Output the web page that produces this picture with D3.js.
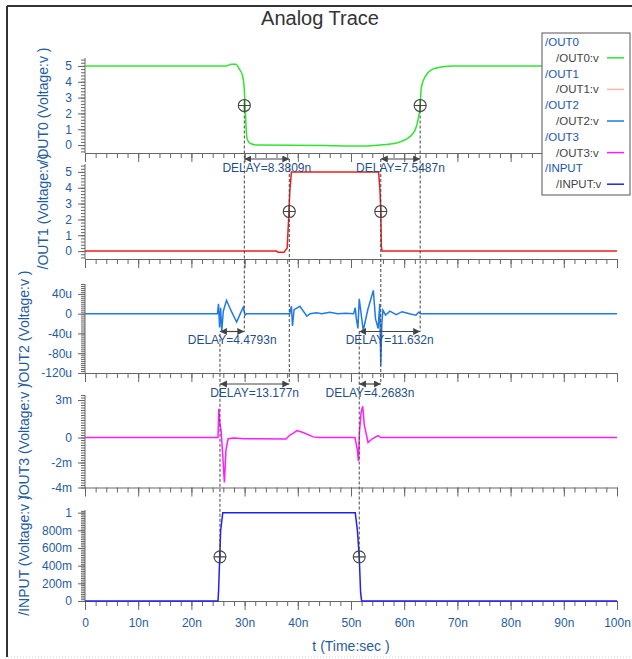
<!DOCTYPE html>
<html>
<head>
<meta charset="utf-8">
<script src="https://cdn.jsdelivr.net/npm/d3@7"></script>
<style>
  body { margin: 0; background: #fff; }
  svg { display: block; font-family: Arial, "Liberation Sans", sans-serif; }
</style>
</head>
<body>
<svg id="chart" width="632" height="659"></svg>
<script>
// --- series values (t in ns) ---
const out0 = [[0,5],[26.5,5],[27.5,5.1],[28.4,5.1],[29.0,4.8],[29.6,4.4],[29.9,3.7],[30.1,2.5],[30.3,1.0],[30.5,0.35],[31.2,0.08],[32.5,0],[45,-0.02],[50,-0.05],[53,-0.05],[56,0.02],[59.2,0.2],[61.7,0.75],[62.6,1.6],[63.0,2.5],[63.2,3.6],[63.9,4.3],[65.8,4.85],[69.2,5.0],[100,5]];
const out1 = [[0,0],[36,0],[36.3,-0.08],[37.4,-0.08],[38.0,0.2],[38.3,2.2],[38.5,3.8],[38.8,5],[55.2,5],[55.45,3.8],[55.6,2.5],[55.7,0.3],[55.85,0],[100,0]];
const out2 = [[0,0],[24.9,0],[25.1,20],[25.3,-28],[25.5,12],[25.7,-35],[26.0,5],[26.6,27],[27.5,5],[28.5,-17],[29.2,0],[29.75,13],[30.1,-3],[30.4,0],[38.5,0],[38.8,15],[39.0,-25],[39.3,8],[40.4,15],[41.7,-5],[42.3,0],[43.5,2],[44.5,0],[46.0,3],[47.5,0],[49,1],[50.5,0],[50.8,12],[51.0,-10],[51.3,-30],[51.55,30],[52.3,-34],[53.2,10],[54.2,47],[54.6,-10],[55.1,-30],[55.4,20],[55.6,-105],[55.8,-20],[56.0,7],[56.5,-3],[57.3,5],[58.5,-2],[59.6,4],[61.0,0],[62.2,-3],[62.7,3],[63.1,0],[100,0]];
const out3 = [[0,0],[25.0,0],[25.15,2.3],[25.3,1.3],[25.6,0.5],[25.9,-1.5],[26.2,-3.6],[26.5,-1.0],[26.9,-0.1],[28,-0.05],[30,-0.1],[37.8,-0.12],[38.5,0.2],[39.2,0.35],[39.8,0.55],[41,0.4],[42.9,0.05],[44,0],[50.75,0],[51.2,-1.0],[51.4,-1.9],[51.6,0.5],[51.9,2.0],[52.2,2.5],[52.5,1.0],[53.2,-0.4],[54.0,-0.1],[55.1,0.15],[55.6,0],[100,0]];
const input = [[0,0],[25.0,0],[25.1,0.1],[25.3,0.45],[25.5,0.8],[25.9,1.0],[50.8,1.0],[51.2,0.8],[51.55,0.5],[51.8,0.1],[52.0,0],[100,0]];

// --- tick values / labels ---
const xTicks = [0,10,20,30,40,50,60,70,80,90,100];
const yTicks0 = [0,1,2,3,4,5];
const yTicks2 = [40,0,-40,-80,-120];
const yTicks3 = [3,0,-2,-4];
const yTicks4 = [0,0.2,0.4,0.6,0.8,1];
const legendNames = ["/OUT0","/OUT1","/OUT2","/OUT3","/INPUT"];

// --- annotations (t in ns) ---
const crossMarks = [
  {panel:0, t:29.95, v:2.5}, {panel:0, t:63.0, v:2.5},
  {panel:1, t:38.4, v:2.5}, {panel:1, t:55.6, v:2.5},
  {panel:4, t:25.37, v:0.5}, {panel:4, t:51.55, v:0.5}
];
const delays = [
  {t0:29.95, t1:38.4, row:0, label:"DELAY=8.3809n"},
  {t0:55.6, t1:63.0, row:0, label:"DELAY=7.5487n"},
  {t0:25.37, t1:29.95, row:1, label:"DELAY=4.4793n"},
  {t0:51.55, t1:63.0, row:1, label:"DELAY=11.632n"},
  {t0:25.37, t1:38.4, row:2, label:"DELAY=13.177n"},
  {t0:51.55, t1:55.6, row:2, label:"DELAY=4.2683n"}
];
// guides: from a mark (index) or arrow row
const guides = [
  {t:25.37, a:{mark:4}, b:{row:1}},
  {t:29.95, a:{mark:0}, b:{row:1}},
  {t:38.4, a:{row:0}, b:{row:2}},
  {t:51.55, a:{row:1}, b:{mark:5}},
  {t:55.6, a:{row:0}, b:{row:2}},
  {t:63.0, a:{mark:1}, b:{row:1}}
];

// --- layout ---
const svg = d3.select("#chart");
const x = d3.scaleLinear([0,100],[85,617]);
const rowY = [159, 331.5, 384];
const tickCol = "#666", labCol = "#1f5d9e";

const panels = [
  {data:out0, color:"#2ee62e", dom:[-0.5,5.5], top:58, bot:153, ticks:yTicks0, minor:0.2, fmt:d=>d, lab:"/OUT0 (Voltage:v )", lx:48, curve:d3.curveMonotoneX},
  {data:out1, color:"#f01c1c", dom:[-0.5,5.5], top:164, bot:259, ticks:yTicks0, minor:0.2, fmt:d=>d, lab:"/OUT1 (Voltage:v )", lx:48, curve:d3.curveLinear},
  {data:out2, color:"#1f7ae8", dom:[-120,60], top:284, bot:373, ticks:yTicks2, minor:4, fmt:d=>d===0?"0":d+"u", lab:"/OUT2 (Voltage:v )", lx:29, curve:d3.curveLinear},
  {data:out3, color:"#ff1cff", dom:[-4,3.4], top:395, bot:487.5, ticks:yTicks3, minor:0.2, fmt:d=>d===0?"0":d+"m", lab:"/OUT3 (Voltage:v )", lx:29, curve:d3.curveLinear},
  {data:input, color:"#2020f0", dom:[0,1.03], top:510, bot:601, ticks:yTicks4, minor:0.02, fmt:d=>d===0?"0":d===1?"1":Math.round(d*1000)+"m", lab:"/INPUT (Voltage:v )", lx:29, curve:d3.curveLinear}
];

// frame
svg.append("line").attr("x1",7).attr("x2",7).attr("y1",6).attr("y2",657).attr("stroke","#333").attr("stroke-width",2);
svg.append("line").attr("x1",7).attr("x2",632).attr("y1",6).attr("y2",6).attr("stroke","#333").attr("stroke-width",2);
svg.append("line").attr("x1",8).attr("x2",632).attr("y1",657).attr("y2",657).attr("stroke","#ccc").attr("stroke-dasharray","1,2");

svg.append("text").attr("x",320).attr("y",25).attr("text-anchor","middle")
  .attr("font-size",20).attr("fill","#333").text("Analog Trace");

panels.forEach((p, i) => {
  p.y = d3.scaleLinear(p.dom, [p.bot, p.top]);
  const g = svg.append("g");

  // y minor + major ticks
  const [lo, hi] = p.dom;
  const minorVals = d3.range(Math.ceil(lo/p.minor - 1e-6), Math.floor(hi/p.minor + 1e-6) + 1).map(k => k*p.minor);
  g.append("g").attr("transform","translate(85,0)")
    .call(d3.axisLeft(p.y).tickValues(minorVals).tickSize(4).tickFormat("").tickSizeOuter(0))
    .call(s => s.select(".domain").remove())
    .call(s => s.selectAll("line").attr("stroke",tickCol));
  g.append("g").attr("transform","translate(85,0)")
    .call(d3.axisLeft(p.y).tickValues(p.ticks).tickSize(7).tickPadding(6).tickFormat(p.fmt).tickSizeOuter(0))
    .call(s => s.select(".domain").attr("stroke",tickCol).attr("d",`M0,${p.top}V${p.bot}`))
    .call(s => s.selectAll("line").attr("stroke",tickCol))
    .call(s => s.selectAll("text").attr("font-size",12).attr("fill",labCol).attr("font-family","Arial, 'Liberation Sans', sans-serif"));

  // x axis
  g.append("g").attr("transform",`translate(0,${p.bot})`)
    .call(d3.axisBottom(x).tickValues(d3.range(0,101,2)).tickSize(5).tickFormat("").tickSizeOuter(0))
    .call(s => s.select(".domain").remove())
    .call(s => s.selectAll("line").attr("stroke",tickCol));
  g.append("g").attr("transform",`translate(0,${p.bot})`)
    .call(d3.axisBottom(x).tickValues(xTicks).tickSize(9).tickPadding(8).tickSizeOuter(0)
      .tickFormat(i === 4 ? (d => d===0 ? "0" : d+"n") : ""))
    .call(s => s.select(".domain").attr("stroke",tickCol))
    .call(s => s.selectAll("line").attr("stroke",tickCol))
    .call(s => s.selectAll("text").attr("font-size",12).attr("fill",labCol).attr("font-family","Arial, 'Liberation Sans', sans-serif"));

  // trace
  g.append("path").datum(p.data)
    .attr("fill","none").attr("stroke",p.color).attr("stroke-width",1.5)
    .attr("d", d3.line().x(d => x(d[0])).y(d => p.y(d[1])).curve(p.curve));

  // y label
  svg.append("text").attr("transform",`translate(${p.lx},${(p.top+p.bot)/2}) rotate(-90)`)
    .attr("text-anchor","middle").attr("font-size",14).attr("fill",labCol).text(p.lab);
});

svg.append("text").attr("x",351).attr("y",651).attr("text-anchor","middle")
  .attr("font-size",14).attr("fill",labCol).text("t (Time:sec )");

// annotations
const ann = svg.append("g");
const defs = svg.append("defs");
defs.append("marker").attr("id","arr").attr("markerUnits","userSpaceOnUse")
  .attr("markerWidth",8).attr("markerHeight",8).attr("refX",7).attr("refY",3.5)
  .attr("orient","auto-start-reverse")
  .append("path").attr("d","M0,0L7,3.5L0,7Z").attr("fill","#444");

const markXY = m => [x(m.t), panels[m.panel].y(m.v)];
const anchorY = a => a.mark !== undefined ? markXY(crossMarks[a.mark])[1] : rowY[a.row];

ann.selectAll("line.guide").data(guides).join("line").attr("class","guide")
  .attr("x1",d => x(d.t)).attr("x2",d => x(d.t))
  .attr("y1",d => anchorY(d.a)).attr("y2",d => anchorY(d.b))
  .attr("stroke","#444").attr("stroke-width",1).attr("stroke-dasharray","3,2");

ann.selectAll("line.arrow").data(delays).join("line").attr("class","arrow")
  .attr("x1",d => x(d.t0)).attr("x2",d => x(d.t1))
  .attr("y1",d => rowY[d.row]).attr("y2",d => rowY[d.row])
  .attr("stroke","#444").attr("stroke-width",1.2)
  .attr("marker-start","url(#arr)").attr("marker-end","url(#arr)");

ann.selectAll("text.delay").data(delays).join("text").attr("class","delay")
  .attr("x",d => (x(d.t0)+x(d.t1))/2).attr("y",d => rowY[d.row] + 12.5)
  .attr("text-anchor","middle").attr("font-size",12).attr("fill","#1f4f8a").text(d => d.label);

const cm = ann.selectAll("g.cross").data(crossMarks).join("g").attr("class","cross")
  .attr("transform",d => `translate(${markXY(d)})`);
cm.append("circle").attr("r",6).attr("fill","none").attr("stroke","#444").attr("stroke-width",1.1);
cm.append("path").attr("d","M-6,0H6M0,-6V6").attr("stroke","#444").attr("stroke-width",1.1);

// legend
const lg = svg.append("g");
lg.append("rect").attr("x",542).attr("y",33).attr("width",88).attr("height",162)
  .attr("fill","#fff").attr("stroke","#555").attr("stroke-width",1);
legendNames.forEach((n, i) => {
  const b = 46 + i*2*15.8;
  lg.append("text").attr("x",545).attr("y",b).attr("font-size",11.5).attr("fill","#1a56b0").text(n);
  lg.append("text").attr("x",556).attr("y",b+15.8).attr("font-size",11.5).attr("fill","#444").text(n+":v");
  lg.append("line").attr("x1",607).attr("x2",624).attr("y1",b+11.8).attr("y2",b+11.8)
    .attr("stroke", i === 1 ? "#f2b8a8" : panels[i].color).attr("stroke-width",1.5);
});
</script>
</body>
</html>
